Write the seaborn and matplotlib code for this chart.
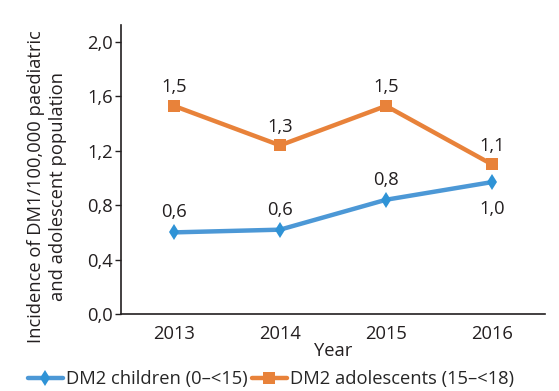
import numpy as np
import pandas as pd
import seaborn as sns
import matplotlib.pyplot as plt

sns.set_style('ticks')
plt.rcParams['font.family'] = ['Open Sans', 'DejaVu Sans']

# data
years = ['2013', '2014', '2015', '2016']
children = [0.60, 0.62, 0.84, 0.97]
adolescents = [1.53, 1.24, 1.53, 1.10]
children_labels = ['0,6', '0,6', '0,8', '1,0']
adolescent_labels = ['1,5', '1,3', '1,5', '1,1']
series_names = ['DM2 children (0\u2013<15)', 'DM2 adolescents (15\u2013<18)']
y_ticks = [0.0, 0.4, 0.8, 1.2, 1.6, 2.0]

df = pd.DataFrame({
    'Year': years * 2,
    'value': children + adolescents,
    'group': [series_names[0]] * 4 + [series_names[1]] * 4,
})

colors = {series_names[0]: '#4C98D6', series_names[1]: '#E8823A'}
markers = {series_names[0]: 'd', series_names[1]: 's'}
fs = 13.2
txt = '#231f20'

fig = plt.figure(figsize=(5.59, 3.91), dpi=100)
ax = fig.add_axes([0.2165, 0.197, 0.7585, 0.739])

sns.lineplot(data=df, x='Year', y='value', hue='group', style='group',
             markers=markers, dashes=False, palette=colors, ax=ax,
             linewidth=3.2, markersize=8, markeredgewidth=0, sort=False)
# thin diamond a touch smaller, a bit darker blue like the reference
for ln in ax.lines:
    if ln.get_marker() == 'd':
        ln.set_markersize(8.5)
        ln.set_markerfacecolor('#2F93D6')

# point labels
for i, (v, lab) in enumerate(zip(adolescents, adolescent_labels)):
    ax.annotate(lab, (i, v), xytext=(0, 7), textcoords='offset points',
                ha='center', va='bottom', fontsize=fs, color=txt)
for i, (v, lab) in enumerate(zip(children, children_labels)):
    off = (0, 8) if i < 3 else (0, -13)
    ax.annotate(lab, (i, v), xytext=off, textcoords='offset points',
                ha='center', va='bottom' if i < 3 else 'top',
                fontsize=fs, color=txt)

ax.set_xlim(-0.5, 3.5)
ax.set_ylim(0, 2.125)
ax.set_yticks(y_ticks)
ax.set_yticklabels([f'{t:.1f}'.replace('.', ',') for t in y_ticks])
ax.tick_params(axis='y', length=4, width=1, labelsize=fs, colors=txt, pad=2)
ax.tick_params(axis='x', length=0, labelsize=fs, pad=8, colors=txt)
for s in ['top', 'right']:
    ax.spines[s].set_visible(False)
for s in ['left', 'bottom']:
    ax.spines[s].set_color(txt)
    ax.spines[s].set_linewidth(1.2)

ax.set_xlabel('Year', fontsize=fs, labelpad=-1, color=txt)
ax.set_ylabel('Incidence of DM1/100,000 paediatric\nand adolescent population',
              fontsize=fs, color=txt, linespacing=1.25)
ax.yaxis.set_label_coords(-0.128, 0.44)

handles, labels = ax.get_legend_handles_labels()
ax.legend_.remove()
fig.legend(handles, labels, loc='center', bbox_to_anchor=(0.485, 1 - 379 / 391),
           ncol=2, frameon=False, fontsize=fs, handlelength=1.9,
           handletextpad=0.2, columnspacing=0.2, borderaxespad=0,
           borderpad=0)

fig.savefig('out.png', dpi=100)
